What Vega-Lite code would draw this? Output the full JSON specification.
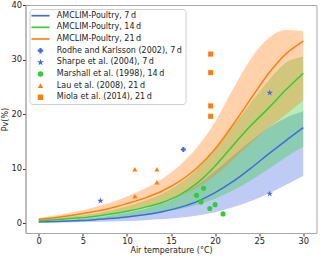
{
  "$schema": "https://vega.github.io/schema/vega-lite/v6.json",
  "autosize": "none",
  "width": 291,
  "height": 228,
  "padding": {"left": 25.5, "top": 5, "right": 3.5, "bottom": 24},
  "config": {
    "font": "DejaVu Sans",
    "view": {"stroke": "#a8a8a8", "strokeWidth": 1},
    "axis": {"grid": false, "domainColor": "#a8a8a8", "tickColor": "#333333", "labelColor": "#222222", "titleColor": "#222222", "labelFont": "DejaVu Sans", "titleFont": "DejaVu Sans", "labelFontSize": 8.3, "titleFontSize": 8, "titleFontWeight": "normal", "tickSize": 3}
  },
  "datasets": {
    "curves": [
      {"series": "AMCLIM-Poultry, 7\u2009d", "t": 0, "pv": 0.2, "lo": 0.08, "hi": 0.3},
      {"series": "AMCLIM-Poultry, 7\u2009d", "t": 2, "pv": 0.3, "lo": 0.12, "hi": 0.42},
      {"series": "AMCLIM-Poultry, 7\u2009d", "t": 4, "pv": 0.45, "lo": 0.17, "hi": 0.65},
      {"series": "AMCLIM-Poultry, 7\u2009d", "t": 6, "pv": 0.6, "lo": 0.24, "hi": 0.95},
      {"series": "AMCLIM-Poultry, 7\u2009d", "t": 8, "pv": 0.85, "lo": 0.32, "hi": 1.35},
      {"series": "AMCLIM-Poultry, 7\u2009d", "t": 10, "pv": 1.15, "lo": 0.42, "hi": 1.9},
      {"series": "AMCLIM-Poultry, 7\u2009d", "t": 12, "pv": 1.55, "lo": 0.56, "hi": 2.6},
      {"series": "AMCLIM-Poultry, 7\u2009d", "t": 14, "pv": 2.1, "lo": 0.75, "hi": 3.6},
      {"series": "AMCLIM-Poultry, 7\u2009d", "t": 16, "pv": 2.9, "lo": 1.0, "hi": 5.0},
      {"series": "AMCLIM-Poultry, 7\u2009d", "t": 18, "pv": 4.0, "lo": 1.4, "hi": 7.0},
      {"series": "AMCLIM-Poultry, 7\u2009d", "t": 20, "pv": 5.6, "lo": 2.0, "hi": 9.5},
      {"series": "AMCLIM-Poultry, 7\u2009d", "t": 22, "pv": 7.6, "lo": 2.9, "hi": 12.3},
      {"series": "AMCLIM-Poultry, 7\u2009d", "t": 24, "pv": 10.0, "lo": 4.0, "hi": 15.0},
      {"series": "AMCLIM-Poultry, 7\u2009d", "t": 26, "pv": 12.6, "lo": 5.4, "hi": 17.4},
      {"series": "AMCLIM-Poultry, 7\u2009d", "t": 28, "pv": 15.1, "lo": 7.0, "hi": 19.3},
      {"series": "AMCLIM-Poultry, 7\u2009d", "t": 30, "pv": 17.5, "lo": 8.7, "hi": 20.5},
      {"series": "AMCLIM-Poultry, 14\u2009d", "t": 0, "pv": 0.45, "lo": 0.3, "hi": 0.6},
      {"series": "AMCLIM-Poultry, 14\u2009d", "t": 2, "pv": 0.65, "lo": 0.4, "hi": 0.9},
      {"series": "AMCLIM-Poultry, 14\u2009d", "t": 4, "pv": 0.9, "lo": 0.55, "hi": 1.25},
      {"series": "AMCLIM-Poultry, 14\u2009d", "t": 6, "pv": 1.2, "lo": 0.7, "hi": 1.7},
      {"series": "AMCLIM-Poultry, 14\u2009d", "t": 8, "pv": 1.65, "lo": 0.9, "hi": 2.3},
      {"series": "AMCLIM-Poultry, 14\u2009d", "t": 10, "pv": 2.2, "lo": 1.15, "hi": 3.1},
      {"series": "AMCLIM-Poultry, 14\u2009d", "t": 12, "pv": 2.9, "lo": 1.5, "hi": 4.1},
      {"series": "AMCLIM-Poultry, 14\u2009d", "t": 14, "pv": 3.8, "lo": 2.0, "hi": 5.4},
      {"series": "AMCLIM-Poultry, 14\u2009d", "t": 16, "pv": 5.2, "lo": 2.6, "hi": 7.3},
      {"series": "AMCLIM-Poultry, 14\u2009d", "t": 18, "pv": 7.4, "lo": 3.4, "hi": 10.0},
      {"series": "AMCLIM-Poultry, 14\u2009d", "t": 20, "pv": 10.5, "lo": 4.5, "hi": 13.6},
      {"series": "AMCLIM-Poultry, 14\u2009d", "t": 22, "pv": 14.2, "lo": 6.0, "hi": 17.8},
      {"series": "AMCLIM-Poultry, 14\u2009d", "t": 24, "pv": 17.8, "lo": 7.8, "hi": 22.0},
      {"series": "AMCLIM-Poultry, 14\u2009d", "t": 26, "pv": 21.0, "lo": 9.9, "hi": 26.0},
      {"series": "AMCLIM-Poultry, 14\u2009d", "t": 28, "pv": 24.4, "lo": 12.1, "hi": 29.4},
      {"series": "AMCLIM-Poultry, 14\u2009d", "t": 30, "pv": 27.5, "lo": 14.0, "hi": 30.5},
      {"series": "AMCLIM-Poultry, 21\u2009d", "t": 0, "pv": 0.7, "lo": 0.5, "hi": 0.95},
      {"series": "AMCLIM-Poultry, 21\u2009d", "t": 2, "pv": 1.05, "lo": 0.72, "hi": 1.45},
      {"series": "AMCLIM-Poultry, 21\u2009d", "t": 4, "pv": 1.5, "lo": 1.0, "hi": 2.05},
      {"series": "AMCLIM-Poultry, 21\u2009d", "t": 6, "pv": 2.05, "lo": 1.35, "hi": 2.8},
      {"series": "AMCLIM-Poultry, 21\u2009d", "t": 8, "pv": 2.7, "lo": 1.75, "hi": 3.7},
      {"series": "AMCLIM-Poultry, 21\u2009d", "t": 10, "pv": 3.6, "lo": 2.3, "hi": 4.9},
      {"series": "AMCLIM-Poultry, 21\u2009d", "t": 12, "pv": 4.6, "lo": 2.9, "hi": 6.3},
      {"series": "AMCLIM-Poultry, 21\u2009d", "t": 14, "pv": 5.9, "lo": 3.8, "hi": 8.1},
      {"series": "AMCLIM-Poultry, 21\u2009d", "t": 16, "pv": 7.7, "lo": 5.0, "hi": 10.6},
      {"series": "AMCLIM-Poultry, 21\u2009d", "t": 18, "pv": 10.2, "lo": 6.6, "hi": 14.0},
      {"series": "AMCLIM-Poultry, 21\u2009d", "t": 20, "pv": 13.6, "lo": 8.8, "hi": 18.6},
      {"series": "AMCLIM-Poultry, 21\u2009d", "t": 22, "pv": 18.0, "lo": 11.6, "hi": 24.5},
      {"series": "AMCLIM-Poultry, 21\u2009d", "t": 24, "pv": 22.7, "lo": 14.6, "hi": 30.0},
      {"series": "AMCLIM-Poultry, 21\u2009d", "t": 26, "pv": 27.3, "lo": 17.4, "hi": 33.8},
      {"series": "AMCLIM-Poultry, 21\u2009d", "t": 28, "pv": 31.0, "lo": 19.9, "hi": 35.4},
      {"series": "AMCLIM-Poultry, 21\u2009d", "t": 30, "pv": 33.4, "lo": 22.5, "hi": 35.2}
    ],
    "obs": [
      {"series": "Rodhe and Karlsson (2002), 7\u2009d", "t": 16.4, "pv": 13.5},
      {"series": "Sharpe et al. (2004), 7\u2009d", "t": 7.0, "pv": 4.1},
      {"series": "Sharpe et al. (2004), 7\u2009d", "t": 26.2, "pv": 23.9},
      {"series": "Sharpe et al. (2004), 7\u2009d", "t": 26.2, "pv": 5.4},
      {"series": "Marshall et al. (1998), 14\u2009d", "t": 17.9, "pv": 5.1},
      {"series": "Marshall et al. (1998), 14\u2009d", "t": 18.7, "pv": 6.4},
      {"series": "Marshall et al. (1998), 14\u2009d", "t": 18.4, "pv": 3.9},
      {"series": "Marshall et al. (1998), 14\u2009d", "t": 19.4, "pv": 2.7},
      {"series": "Marshall et al. (1998), 14\u2009d", "t": 20.0, "pv": 3.4},
      {"series": "Marshall et al. (1998), 14\u2009d", "t": 20.9, "pv": 1.7},
      {"series": "Lau et al. (2008), 21\u2009d", "t": 10.9, "pv": 9.9},
      {"series": "Lau et al. (2008), 21\u2009d", "t": 13.4, "pv": 9.9},
      {"series": "Lau et al. (2008), 21\u2009d", "t": 13.4, "pv": 7.5},
      {"series": "Lau et al. (2008), 21\u2009d", "t": 10.9, "pv": 4.95},
      {"series": "Miola et al. (2014), 21\u2009d", "t": 19.5, "pv": 31.0},
      {"series": "Miola et al. (2014), 21\u2009d", "t": 19.5, "pv": 27.6},
      {"series": "Miola et al. (2014), 21\u2009d", "t": 19.5, "pv": 21.5},
      {"series": "Miola et al. (2014), 21\u2009d", "t": 19.5, "pv": 19.6}
    ]
  },
  "layer": [
    {
      "data": {"name": "curves"},
      "mark": {"type": "area", "opacity": 0.35, "interpolate": "monotone", "clip": true},
      "encoding": {
        "x": {"field": "t", "type": "quantitative"},
        "y": {"field": "lo", "type": "quantitative"},
        "y2": {"field": "hi"},
        "color": {"field": "series", "type": "nominal"}
      }
    },
    {
      "data": {"name": "curves"},
      "mark": {"type": "line", "strokeWidth": 1.5, "interpolate": "monotone", "clip": true},
      "encoding": {
        "x": {"field": "t", "type": "quantitative"},
        "y": {"field": "pv", "type": "quantitative"},
        "color": {"field": "series", "type": "nominal"}
      }
    },
    {
      "data": {"name": "obs"},
      "mark": {"type": "point", "filled": true, "opacity": 1, "size": 26},
      "encoding": {
        "x": {"field": "t", "type": "quantitative", "scale": {"domain": [-1.5, 31.5], "nice": false, "zero": false}, "axis": {"title": "Air temperature (°C)", "values": [0, 5, 10, 15, 20, 25, 30], "labelPadding": 0.5, "titlePadding": 1.5}},
        "y": {"field": "pv", "type": "quantitative", "scale": {"domain": [-1.8, 40], "nice": false, "zero": false}, "axis": {"title": "Pv(%)", "values": [0, 10, 20, 30, 40], "labelPadding": 1, "titlePadding": 1}},
        "color": {
          "field": "series", "type": "nominal",
          "scale": {
            "domain": ["AMCLIM-Poultry, 7\u2009d", "AMCLIM-Poultry, 14\u2009d", "AMCLIM-Poultry, 21\u2009d", "Rodhe and Karlsson (2002), 7\u2009d", "Sharpe et al. (2004), 7\u2009d", "Marshall et al. (1998), 14\u2009d", "Lau et al. (2008), 21\u2009d", "Miola et al. (2014), 21\u2009d"],
            "range": ["#4169e1", "#32cd32", "#ff7f0e", "#4169e1", "#4169e1", "#32cd32", "#ff7f0e", "#ff7f0e"]
          },
          "legend": {
            "title": null, "orient": "top-left", "offset": 4, "padding": 2.7,
            "labelFontSize": 8, "labelColor": "#222222", "labelLimit": 300,
            "symbolSize": 30, "symbolStrokeWidth": 0, "symbolOpacity": 1, "rowPadding": 3.65, "labelOffset": 12.3, "symbolOffset": 4.3,
            "strokeColor": "#d0d0d0", "fillColor": "rgba(255,255,255,0.8)", "cornerRadius": 3,
            "encode": {"symbols": {"update": {
              "fill": {"scale": "color", "field": "value"},
              "fillOpacity": {"value": 1},
              "strokeWidth": {"value": 0},
              "opacity": {"value": 1}
            }}}
          }
        },
        "shape": {
          "field": "series", "type": "nominal",
          "scale": {
            "domain": ["AMCLIM-Poultry, 7\u2009d", "AMCLIM-Poultry, 14\u2009d", "AMCLIM-Poultry, 21\u2009d", "Rodhe and Karlsson (2002), 7\u2009d", "Sharpe et al. (2004), 7\u2009d", "Marshall et al. (1998), 14\u2009d", "Lau et al. (2008), 21\u2009d", "Miola et al. (2014), 21\u2009d"],
            "range": ["M-3.3,-0.3H3.3V0.3H-3.3Z", "M-3.3,-0.3H3.3V0.3H-3.3Z", "M-3.3,-0.3H3.3V0.3H-3.3Z", "cross", "M0,-1.3L0.293,-0.402L1.236,-0.402L0.472,0.153L0.764,1.052L0,0.497L-0.764,1.052L-0.472,0.153L-1.236,-0.402L-0.293,-0.402Z", "circle", "triangle-up", "square"]
          }
        }
      }
    }
  ]
}
